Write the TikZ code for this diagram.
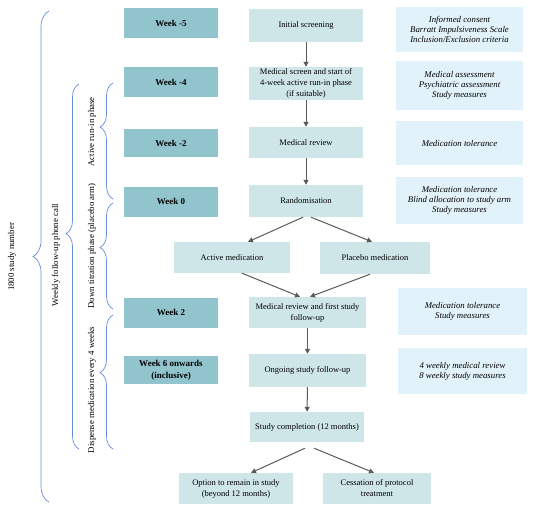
\documentclass[tikz,border=0pt]{standalone}
\usepackage{fontspec}
\setmainfont{Liberation Serif}
\usetikzlibrary{arrows.meta,decorations.pathreplacing}
\definecolor{weekcol}{RGB}{146,196,205}
\definecolor{stepcol}{RGB}{207,230,233}
\definecolor{notecol}{RGB}{226,242,250}
\definecolor{bracecol}{RGB}{100,140,215}
\definecolor{arrcol}{RGB}{90,90,90}
\begin{document}
\begin{tikzpicture}[x=1pt,y=-1pt,
    week/.style={fill=weekcol,minimum width=94pt,minimum height=30pt,font=\fontsize{9}{12}\selectfont\bfseries,align=center,inner sep=1pt},
    stepbox/.style={fill=stepcol,minimum width=114pt,minimum height=32pt,font=\fontsize{8.5}{11}\selectfont,align=center,inner sep=1pt},
    note/.style={fill=notecol,minimum width=127pt,minimum height=46pt,font=\fontsize{8.8}{10}\selectfont\itshape,align=center,inner sep=1pt},
    flow/.style={draw=arrcol,line width=1pt,-{Triangle[length=5pt,width=5pt]}},
    curly/.style={draw=bracecol,line width=.7pt,decorate},
    phase/.style={rotate=90,font=\fontsize{8.8}{10}\selectfont}]
      \useasboundingbox(0, 0) rectangle (535, 511);

      \node[week] at(171, 23)(wka){Week -5};
      \node[week] at(171, 82)(wkb){Week -4};
      \node[week, minimum height=28pt] at(171, 143)(wkc){Week -2};
      \node[week] at(171, 201.5)(wkd){Week 0};
      \node[week] at(171, 312.5)(wke){Week 2};
      \node[week, minimum height=28pt] at(171, 370)(wkf){Week 6 onwards\\(inclusive)};

      \node[stepbox, minimum height=33pt] at(306, 25.5)(scr){Initial screening};
      \node[stepbox, minimum height=33pt] at(306, 83.5)(medscr){Medical screen and start of\\4-week active run-in phase\\(if suitable)};
      \node[stepbox, minimum height=31pt] at(306, 142.5)(medrev){Medical review};
      \node[stepbox] at(306, 201)(rand){Randomisation};
      \node[stepbox, minimum width=116pt, minimum height=31pt] at(232, 257.5)(act){Active medication};
      \node[stepbox, minimum width=110pt] at(375, 258)(plac){Placebo medication};
      \node[stepbox, minimum width=117pt, minimum height=31pt] at(307.5, 312.5)(fup){Medical review and first study\\follow-up};
      \node[stepbox, minimum width=117pt, minimum height=33pt] at(307.5, 370.5)(ongo){Ongoing study follow-up};
      \node[stepbox, minimum height=30pt] at(307, 427)(compl){Study completion (12 months)};
      \node[stepbox, minimum height=31pt] at(236, 488.5)(opt){Option to remain in study\\(beyond 12 months)};
      \node[stepbox, minimum width=108pt, minimum height=31pt] at(377, 488.5)(cess){Cessation of protocol\\treatment};

      \node[note, minimum height=45pt] at(459.5, 29.5)(nta){Informed consent\\Barratt Impulsiveness Scale\\Inclusion/Exclusion criteria};
      \node[note, minimum height=49pt] at(459.5, 85.5)(ntb){Medical assessment\\Psychiatric assessment\\Study measures};
      \node[note, minimum height=44pt] at(459.5, 143)(ntc){Medication tolerance};
      \node[note, minimum height=47pt] at(459.5, 200.5)(ntd){Medication tolerance\\Blind allocation to study arm\\Study measures};
      \node[note, minimum width=129pt, minimum height=47pt] at(462.5, 311.5)(nte){Medication tolerance\\Study measures};
      \node[note, minimum width=129pt] at(462.5, 371)(ntf){4 weekly medical review\\8 weekly study measures};

      \draw[flow](scr) to (medscr);
      \draw[flow](medscr) to (medrev);
      \draw[flow](medrev) to (rand);
      \draw[flow]([xshift=-3pt]rand.south) to ([xshift=16pt]act.north);
      \draw[flow]([xshift=5pt]rand.south) to ([xshift=-3pt]plac.north);
      \draw[flow]([xshift=10pt]act.south) to ([xshift=-7.5pt]fup.north);
      \draw[flow]([xshift=-5pt]plac.south) to ([xshift=2.5pt]fup.north);
      \draw[flow](fup) to (ongo);
      \draw[flow](ongo) to (compl);
      \draw[flow]([xshift=-2pt, yshift=-6pt]compl.south) to ([xshift=15pt]opt.north);
      \draw[flow]([xshift=7pt, yshift=-6pt]compl.south) to ([xshift=-3pt]cess.north);

      \draw[curly, decoration={brace, amplitude=16pt}](49, 502) to (49, 11);
      \draw[curly, decoration={brace, amplitude=13pt, aspect=.59}](79, 449) to (79, 84);
      \draw[curly, decoration={brace, amplitude=13pt, aspect=.62}](113, 199) to (113, 83);
      \draw[curly, decoration={brace, amplitude=13pt, aspect=.58}](113, 309) to (113, 203);
      \draw[curly, decoration={brace, amplitude=13pt, aspect=.57}](113, 449) to (113, 315);

      \node[phase] at(12, 257)(lbla){1800 study number};
      \node[phase] at(56, 255)(lblb){Weekly follow-up phone call};
      \node[phase] at(92, 132)(lblc){Active run-in phase};
      \node[phase] at(92, 246)(lbld){Down titration phase (placebo arm)};
      \node[phase] at(92, 390)(lble){Dispense medication every 4 weeks};
\end{tikzpicture}
\end{document}
